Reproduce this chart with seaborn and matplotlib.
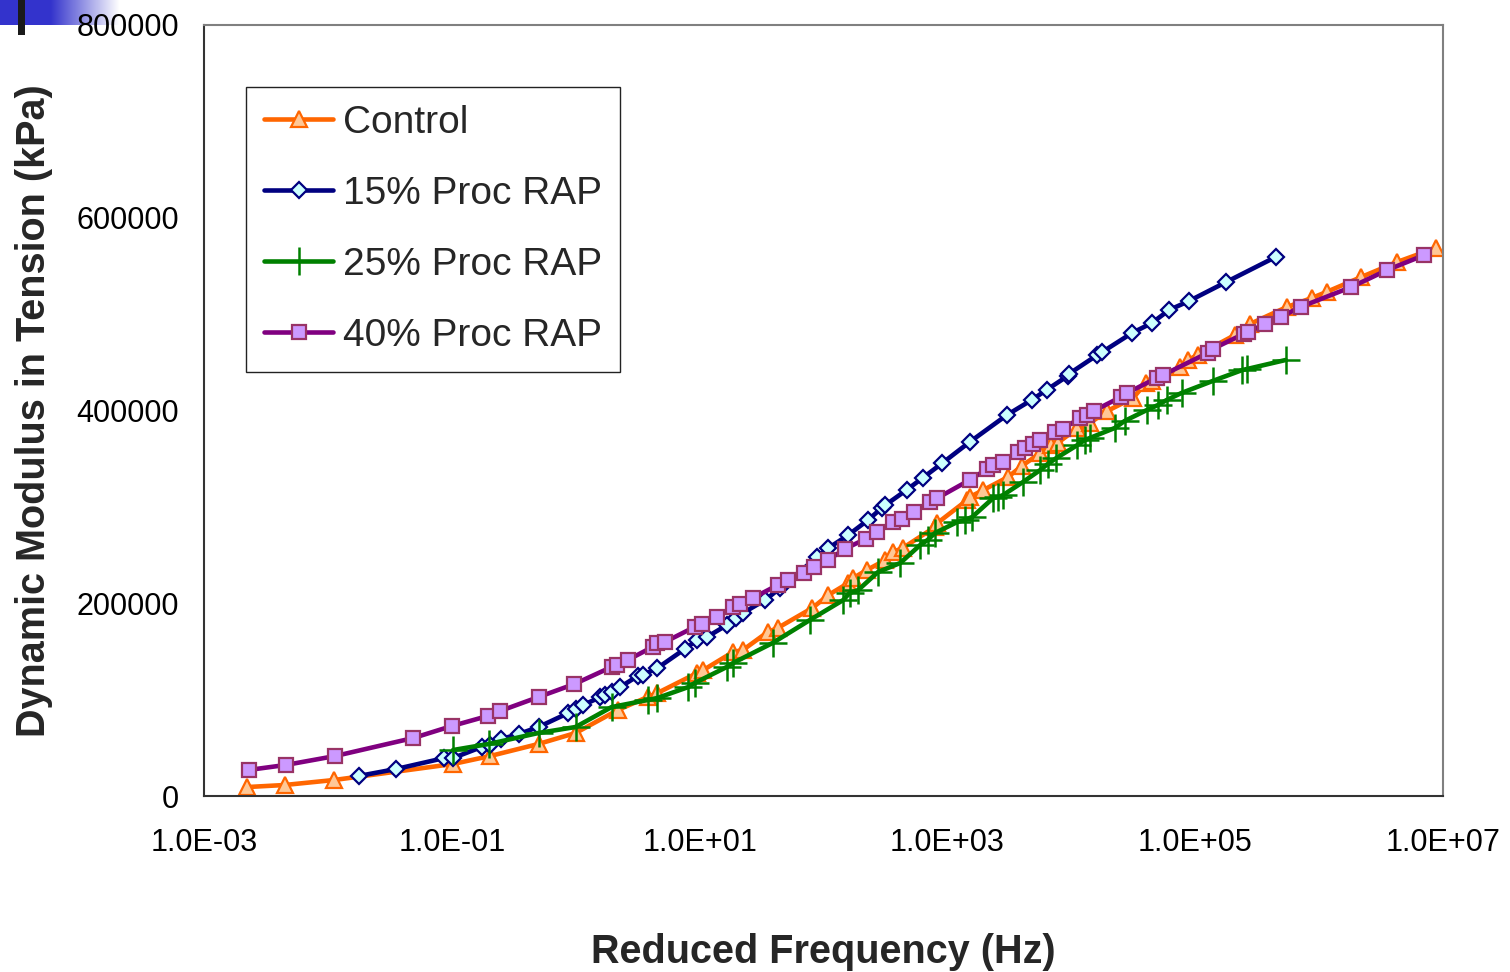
import numpy as np
import pandas as pd
import matplotlib
matplotlib.use("Agg")
import matplotlib.pyplot as plt
from matplotlib.ticker import FixedLocator, FuncFormatter
import seaborn as sns

# reduced frequency as log10(Hz), modulus in kPa
control_logf = [-2.65, -2.35, -1.95, -0.99, -0.69, -0.30, 0.00, 0.34, 0.58, 0.66,
                0.98, 1.03, 1.27, 1.35, 1.55, 1.63, 1.91, 2.04, 2.20, 2.24,
                2.35, 2.50, 2.56, 2.64, 2.90, 2.92, 3.16, 3.18, 3.29, 3.49,
                3.60, 3.75, 3.84, 3.89, 4.05, 4.15, 4.29, 4.50, 4.60, 4.65,
                4.88, 4.94, 5.02, 5.32, 5.44, 5.74, 5.94, 6.06, 6.34, 6.63, 6.94]
control_mod = [9300, 11400, 16600, 33200, 41500, 54000, 65400, 89200, 102700, 106900,
               127600, 130700, 149400, 151500, 170200, 174300, 195100, 208600, 221000, 226200,
               234500, 244900, 253200, 257300, 279100, 283300, 307100, 310200, 317500, 331000,
               342400, 355900, 364200, 366300, 381800, 387000, 399500, 413000, 428500, 431000,
               445100, 452400, 457600, 478300, 489700, 507400, 516700, 523000, 538500, 554100, 568600]

rap15_logf = [-1.75, -1.45, -1.06, -0.99, -0.76, -0.69, -0.60, -0.46, -0.30, -0.06,
              0.00, 0.06, 0.20, 0.24, 0.29, 0.36, 0.50, 0.54, 0.66, 0.88,
              0.98, 1.06, 1.22, 1.29, 1.35, 1.53, 1.65, 1.95, 2.04, 2.20,
              2.36, 2.47, 2.50, 2.67, 2.80, 2.96, 3.18, 3.48, 3.68, 3.80,
              3.97, 3.98, 4.21, 4.25, 4.49, 4.65, 4.79, 4.95, 5.25, 5.65]
rap15_mod = [20800, 28000, 39400, 39400, 50800, 52900, 59100, 64300, 71600, 86100,
             90300, 94400, 102700, 104800, 107900, 113100, 124500, 125500, 132800, 152500,
             161900, 165000, 177400, 184700, 189900, 203400, 215800, 248000, 257300, 270800,
             286400, 298800, 301900, 317500, 330000, 345500, 367300, 395300, 410900, 421300,
             435800, 437900, 457600, 460700, 480400, 490800, 504300, 513600, 533300, 559300]

rap25_logf = [-0.99, -0.70, -0.30, 0.00, 0.29, 0.58, 0.66, 0.91, 0.96, 1.22,
              1.27, 1.59, 1.89, 2.16, 2.21, 2.28, 2.44, 2.62, 2.78, 2.84,
              2.90, 3.08, 3.14, 3.20, 3.37, 3.41, 3.45, 3.61, 3.75, 3.81,
              3.88, 4.05, 4.11, 4.15, 4.35, 4.43, 4.61, 4.70, 4.77, 4.89,
              5.14, 5.38, 5.42, 5.73]
rap25_mod = [47700, 54000, 65400, 71600, 92300, 99600, 101700, 113100, 117200, 133900,
             138000, 158800, 182600, 203400, 210600, 213700, 232400, 241800, 260400, 265600,
             272900, 284300, 286400, 289500, 309200, 310200, 312300, 325800, 338300, 344500,
             350700, 364200, 369400, 371500, 381800, 389100, 400500, 405700, 410900, 418200,
             430600, 442000, 443100, 452400]

rap40_logf = [-2.64, -2.34, -1.94, -1.31, -1.00, -0.71, -0.61, -0.30, -0.01, 0.29,
              0.33, 0.42, 0.62, 0.66, 0.72, 0.96, 1.02, 1.14, 1.27, 1.33,
              1.43, 1.63, 1.71, 1.84, 1.92, 2.04, 2.17, 2.34, 2.43, 2.56,
              2.63, 2.73, 2.86, 2.92, 3.18, 3.32, 3.37, 3.45, 3.57, 3.63,
              3.69, 3.75, 3.87, 3.93, 4.07, 4.13, 4.18, 4.40, 4.45, 4.69,
              4.74, 5.10, 5.14, 5.39, 5.43, 5.56, 5.69, 5.85, 6.26, 6.55, 6.85]
rap40_mod = [27000, 32200, 41500, 60200, 72600, 83000, 88200, 102700, 116200, 133900,
             135900, 141100, 154600, 158800, 159800, 175400, 178500, 185700, 196100, 199200,
             205400, 218900, 224100, 231400, 237600, 244900, 256300, 266700, 273900, 284300,
             287400, 294700, 305100, 309200, 327900, 339300, 343500, 346600, 356900, 361100,
             365200, 369400, 377700, 380800, 392200, 395300, 399500, 414000, 418200, 433700,
             436800, 459700, 463800, 479400, 481500, 489700, 497000, 507400, 528100, 545800, 561300]

x_ticks = [1e-3, 1e-1, 1e1, 1e3, 1e5, 1e7]
y_ticks = [0, 200000, 400000, 600000, 800000]

series = [
    ("Control", control_logf, control_mod,
     dict(color="#FF6600", marker="^", markersize=12, markerfacecolor="#FFC896",
          markeredgecolor="#FF6600", markeredgewidth=1.6)),
    ("15% Proc RAP", rap15_logf, rap15_mod,
     dict(color="#000080", marker="D", markersize=8.5, markerfacecolor="#CCFFFF",
          markeredgecolor="#000080", markeredgewidth=1.6)),
    ("25% Proc RAP", rap25_logf, rap25_mod,
     dict(color="#008000", marker="+", markersize=20, markeredgecolor="#008000",
          markeredgewidth=1.8)),
    ("40% Proc RAP", rap40_logf, rap40_mod,
     dict(color="#800080", marker="s", markersize=10, markerfacecolor="#CC99FF",
          markeredgecolor="#993366", markeredgewidth=1.6)),
]

sns.set_style("white")
plt.rcParams["font.family"] = ["Liberation Sans", "DejaVu Sans"]

fig = plt.figure(figsize=(15.10, 9.72), dpi=100)
ax = fig.add_axes([204 / 1510, 1 - 796 / 972, 1239 / 1510, 771 / 972])

for name, logf, mod, style in series:
    df = pd.DataFrame({"freq": 10 ** np.array(logf), "modulus": mod})
    sns.lineplot(data=df, x="freq", y="modulus", ax=ax, estimator=None, sort=False,
                 linewidth=3.3, label=name, **style)

ax.set_xscale("log")
ax.set_xlim(1e-3, 1e7)
ax.set_ylim(0, 800000)
ax.xaxis.set_major_locator(FixedLocator(x_ticks))
ax.xaxis.set_minor_locator(FixedLocator([]))
ax.xaxis.set_major_formatter(FuncFormatter(lambda v, p: f"{v:.1E}"))
ax.yaxis.set_major_locator(FixedLocator(y_ticks))
ax.yaxis.set_major_formatter(FuncFormatter(lambda v, p: f"{v:.0f}"))

ax.tick_params(axis="both", direction="in", length=7, width=1.2, color="#333333",
               labelsize=22, labelcolor="black")
ax.tick_params(axis="x", pad=23)
ax.tick_params(axis="y", pad=18)

for side in ["top", "right"]:
    ax.spines[side].set_color("#808080")
    ax.spines[side].set_linewidth(1.5)
for side in ["left", "bottom"]:
    ax.spines[side].set_color("#333333")
    ax.spines[side].set_linewidth(1.5)

ax.set_xlabel("Reduced Frequency (Hz)", fontsize=28.5, fontweight="bold")
ax.set_ylabel("Dynamic Modulus in Tension (kPa)", fontsize=28.5, fontweight="bold")
ax.xaxis.set_label_coords(0.5, -0.178)
ax.yaxis.set_label_coords(-0.122, 0.5)

leg = ax.legend(loc="upper left", bbox_to_anchor=(0.0339, 0.9196), borderaxespad=0,
                fontsize=28, frameon=True, fancybox=False, framealpha=1,
                edgecolor="#222222", handlelength=1.78, handletextpad=0.26,
                labelspacing=0.9, borderpad=0.46)
leg.get_frame().set_linewidth(1.0)

# slide template remnant in the top-left corner
band = fig.add_axes([0, 1 - 25 / 972, 120 / 1510, 25 / 972], zorder=-1)
ramp = np.concatenate([np.zeros(50), np.linspace(0, 1, 70)])
blue = np.array([0.2, 0.2, 0.8])
img = blue[None, None, :] * (1 - ramp[None, :, None]) + ramp[None, :, None]
band.imshow(img, aspect="auto", extent=(0, 1, 0, 1))
band.axis("off")
bar = fig.add_axes([18 / 1510, 1 - 35 / 972, 7 / 1510, 35 / 972])
bar.set_facecolor("#1a1a1a")
bar.set_xticks([])
bar.set_yticks([])
for s in bar.spines.values():
    s.set_visible(False)

fig.savefig("out.png", dpi=100)
